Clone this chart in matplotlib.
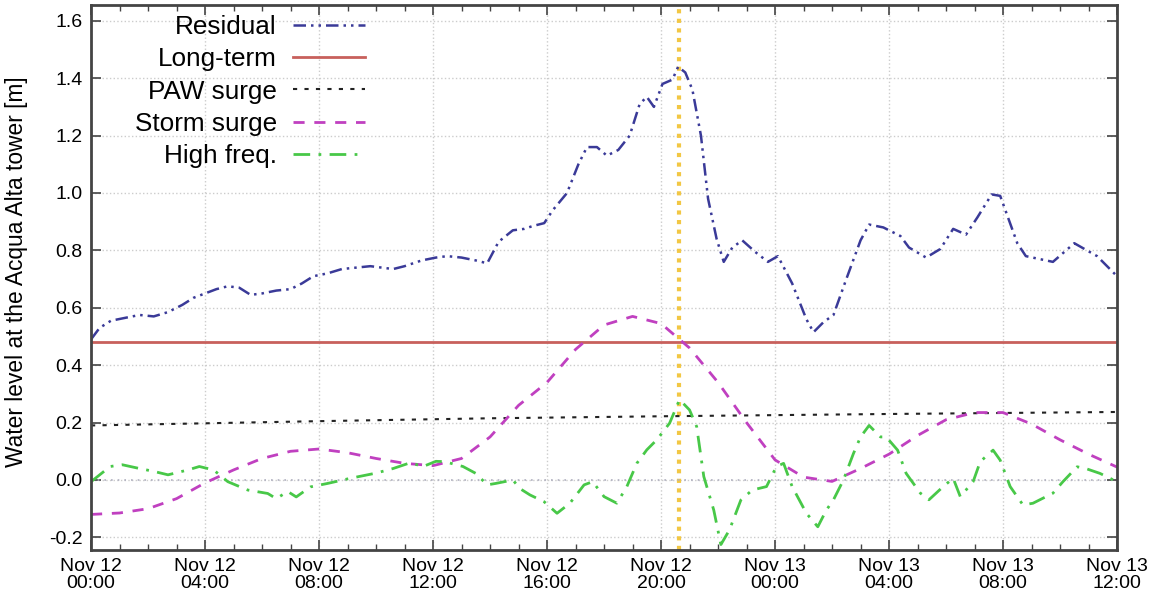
import numpy as np
import matplotlib
matplotlib.use('Agg')
import matplotlib.pyplot as plt
import matplotlib.dates as mdates
from datetime import datetime, timedelta

# Acqua Alta tower, water level components, Nov 12-13 2019
t0 = datetime(2019, 11, 12, 0, 0)

res_h = [0.0, 0.3, 0.7, 1.2, 1.7, 2.2, 2.7, 3.2, 3.6, 4.0, 4.4, 4.8, 5.2, 5.6, 6.0, 6.5, 7.0, 7.4, 7.8,
         8.3, 8.8, 9.3, 9.8, 10.2, 10.6, 11.0, 11.6, 12.1, 12.5, 13.0, 13.5, 13.9, 14.3, 14.8, 15.2,
         15.5, 15.9, 16.2, 16.7, 17.1, 17.4, 17.75, 18.1, 18.5, 18.9, 19.25, 19.5, 19.75, 20.05, 20.4,
         20.6, 20.85, 21.1, 21.4, 21.65, 21.95, 22.2, 22.5, 22.85, 23.3, 23.75, 24.1, 24.6, 25.1, 25.35,
         25.7, 26.05, 26.5, 27.0, 27.3, 27.8, 28.4, 28.7, 29.3, 29.8, 30.25, 30.7, 31.1, 31.6, 31.9,
         32.5, 32.8, 33.75, 34.5, 35.3, 36.0]
res_v = [0.49, 0.53, 0.555, 0.565, 0.575, 0.57, 0.585, 0.61, 0.635, 0.65, 0.665, 0.675, 0.67, 0.645,
         0.65, 0.66, 0.665, 0.685, 0.71, 0.72, 0.735, 0.74, 0.745, 0.74, 0.735, 0.745, 0.765, 0.775,
         0.78, 0.775, 0.765, 0.755, 0.83, 0.87, 0.875, 0.885, 0.895, 0.94, 1.0, 1.10, 1.16, 1.16, 1.13,
         1.15, 1.20, 1.31, 1.335, 1.30, 1.38, 1.395, 1.44, 1.42, 1.36, 1.20, 0.98, 0.84, 0.76, 0.81,
         0.835, 0.795, 0.76, 0.78, 0.685, 0.56, 0.515, 0.55, 0.575, 0.70, 0.835, 0.89, 0.88, 0.85, 0.81,
         0.775, 0.805, 0.875, 0.855, 0.915, 0.995, 0.99, 0.825, 0.78, 0.76, 0.825, 0.78, 0.71]

longterm_h = [0.0, 36.0]
longterm_v = [0.481, 0.481]

paw_h = [0, 8, 14, 20, 28, 36]
paw_v = [0.19, 0.205, 0.215, 0.222, 0.23, 0.237]

storm_h = list(range(0, 37))
storm_v = [-0.12, -0.115, -0.10, -0.065, -0.01, 0.035, 0.075, 0.10, 0.108, 0.095, 0.075, 0.058,
           0.05, 0.075, 0.15, 0.26, 0.34, 0.455, 0.54, 0.57, 0.545, 0.46, 0.34, 0.20, 0.07, 0.01,
           -0.005, 0.04, 0.09, 0.155, 0.21, 0.235, 0.235, 0.195, 0.14, 0.09, 0.045]

hf_h = [0.0, 0.67, 1.1, 1.7, 2.2, 2.7, 3.4, 3.8, 4.3, 4.8, 5.5, 6.2, 6.5, 6.9, 7.2, 7.7, 8.3, 9.1,
        10.0, 10.6, 11.2, 11.65, 12.1, 12.4, 13.05, 13.5, 13.9, 14.2, 14.8, 15.05, 15.4, 15.9, 16.35,
        16.8, 17.3, 17.6, 18.0, 18.45, 18.8, 19.15, 19.5, 19.85, 20.3, 20.65, 21.0, 21.25, 21.5, 21.85,
        22.1, 22.4, 22.8, 23.2, 23.7, 24.05, 24.3, 24.6, 25.1, 25.5, 25.8, 26.05, 26.4, 26.75, 27.0,
        27.3, 27.7, 27.9, 28.3, 28.6, 29.1, 29.4, 29.9, 30.25, 30.5, 30.95, 31.2, 31.65, 31.9, 32.25,
        32.7, 33.05, 33.75, 34.1, 34.6, 34.9, 35.4, 36.0]
hf_v = [-0.006, 0.047, 0.053, 0.04, 0.03, 0.018, 0.035, 0.047, 0.035, -0.006, -0.035, -0.047, -0.065,
        -0.04, -0.059, -0.024, -0.012, 0.006, 0.024, 0.04, 0.06, 0.047, 0.065, 0.064, 0.047, 0.023,
        -0.017, -0.012, 0.0, -0.03, -0.052, -0.076, -0.116, -0.081, -0.017, -0.006, -0.058, -0.081,
        -0.023, 0.058, 0.105, 0.14, 0.198, 0.28, 0.244, 0.186, 0.012, -0.105, -0.225, -0.174, -0.07,
        -0.035, -0.023, 0.047, 0.058, -0.023, -0.116, -0.163, -0.105, -0.069, 0.0, 0.092, 0.15, 0.19,
        0.15, 0.15, 0.104, 0.023, -0.046, -0.069, -0.023, 0.006, -0.058, -0.006, 0.064, 0.104, 0.069,
        -0.023, -0.087, -0.081, -0.046, -0.006, 0.046, 0.040, 0.023, -0.006]

peak_h = 20.63


def to_time(hours):
    return [t0 + timedelta(hours=h) for h in hours]


plt.rcParams['font.family'] = ['Liberation Sans', 'DejaVu Sans']

fig = plt.figure(figsize=(11.51, 5.97), dpi=100)
ax = fig.add_axes([0.0791, 0.0787, 0.8914, 0.9129])

ax.axvline(to_time([peak_h])[0], color='#f2c744', lw=3, ls=(0, (1, 1.3)), zorder=1)
ax.axhline(0, color='#b0b0c0', lw=1.2, ls=(0, (1, 3)), zorder=1)

ax.plot(to_time(res_h), res_v, color='#3a3a98', lw=1.8, ls=(0, (5, 2, 1, 2, 1, 2)), label='Residual')
ax.plot(to_time(longterm_h), longterm_v, color='#c8605c', lw=2, label='Long-term')
ax.plot(to_time(paw_h), paw_v, color='#222222', lw=1.5, ls=(0, (2, 3.5)), label='PAW surge')
ax.plot(to_time(storm_h), storm_v, color='#c040c0', lw=2, ls=(0, (4, 3.5)), label='Storm surge')
ax.plot(to_time(hf_h), hf_v, color='#48c848', lw=2, ls=(0, (6, 3, 1, 3)), label='High freq.')

ax.set_xlim(t0, t0 + timedelta(hours=36))
ax.set_ylim(-0.244, 1.655)
ax.set_yticks(np.arange(-0.2, 1.61, 0.2))
ax.yaxis.set_major_formatter(matplotlib.ticker.FormatStrFormatter('%.1f'))
ax.xaxis.set_major_locator(mdates.HourLocator(byhour=range(0, 24, 4)))
ax.xaxis.set_minor_locator(mdates.HourLocator())
ax.xaxis.set_major_formatter(mdates.DateFormatter('%b %d\n%H:%M'))

ax.tick_params(which='both', direction='in', top=True, right=True, colors='#444444',
               labelcolor='black', labelsize=14)
ax.tick_params(which='major', length=7, width=1.2, pad=6)
ax.tick_params(which='minor', length=4, width=1)
for lab in ax.get_xticklabels():
    lab.set_linespacing(0.95)
for s in ax.spines.values():
    s.set_color('#444444')
    s.set_linewidth(2)

ax.grid(True, which='major', color='#cccccc', ls=':', lw=1)
ax.set_axisbelow(True)

ax.set_ylabel('Water level at the Acqua Alta tower [m]', fontsize=16.4)
ax.yaxis.set_label_coords(-0.061, 0.51)

ax.legend(loc='upper right', bbox_to_anchor=(0.267, 0.982), frameon=False, markerfirst=False,
          fontsize=18.8, handlelength=2.77, handletextpad=0.6, labelspacing=0.32,
          borderpad=0, borderaxespad=0)

plt.savefig('out.png', dpi=100)
